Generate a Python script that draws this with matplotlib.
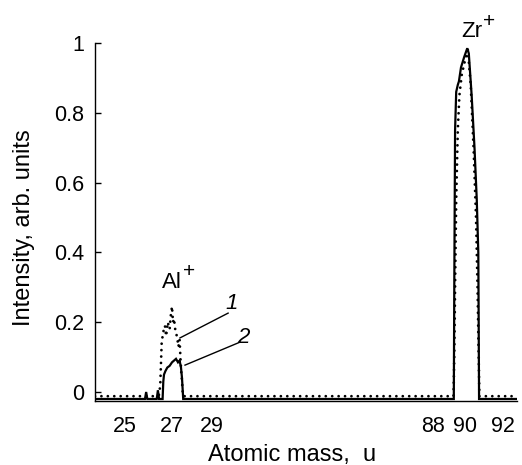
import numpy as np
import matplotlib
matplotlib.use("Agg")
import matplotlib.pyplot as plt

plt.rcParams['font.family'] = ['Liberation Sans', 'DejaVu Sans']

# curve 1 (dotted)
mass1 = [23.5, 26.3, 26.45, 26.5, 26.52, 26.54, 26.56, 26.62, 26.7, 26.75, 26.82, 26.9,
         26.95, 27.0, 27.05, 27.1, 27.18, 27.25, 27.32, 27.38, 27.42, 27.46, 27.5, 27.55,
         89.28, 89.33, 89.38, 89.45, 89.55, 89.65, 89.8, 90.0, 90.15, 90.3, 90.45,
         90.58, 90.66, 90.72, 90.76, 92.75]
int1 = [-0.012, -0.012, -0.008, 0.02, 0.06, 0.1, 0.14, 0.17, 0.19, 0.16, 0.2, 0.18,
        0.22, 0.245, 0.2, 0.21, 0.17, 0.16, 0.13, 0.15, 0.1, 0.06, 0.03, -0.012,
        -0.012, 0.1, 0.3, 0.55, 0.75, 0.85, 0.91, 0.95, 0.98, 0.88, 0.7,
        0.5, 0.3, 0.1, -0.012, -0.012]

# curve 2 (solid)
mass2 = [23.5, 25.85, 25.9, 25.95, 26.35, 26.4, 26.45, 26.6, 26.63, 26.66, 26.72, 26.8,
         26.9, 27.0, 27.1, 27.2, 27.3, 27.38, 27.45, 27.5, 27.53, 27.56, 29.5,
         89.3, 89.33, 89.38, 89.45, 89.55, 89.62, 89.75, 89.95, 90.12, 90.2, 90.35,
         90.5, 90.62, 90.7, 90.72, 90.74, 92.75]
int2 = [-0.02, -0.02, 0.0, -0.02, -0.02, 0.005, -0.02, -0.02, 0.03, 0.05, 0.06, 0.07,
        0.075, 0.085, 0.09, 0.095, 0.085, 0.09, 0.07, 0.04, 0.01, -0.02, -0.02,
        -0.02, 0.3, 0.75, 0.86, 0.88, 0.89, 0.93, 0.96, 0.985, 0.97, 0.85,
        0.7, 0.55, 0.4, 0.2, -0.02, -0.02]

xticks = [25, 27, 29, 88, 90, 92]

# piecewise axis: compressed gap between 29 and 88
brk_mass = [-1000, 23.5, 25, 27, 29, 88, 90, 92, 92.75, 1000]
brk_pos = [95 - 1023.5 * 20, 95, 125, 172, 212, 433, 465, 503, 517, 517 + 907.25 * 19]


def fwd(x):
    return np.interp(x, brk_mass, brk_pos)


def inv(p):
    return np.interp(p, brk_pos, brk_mass)


fig = plt.figure(figsize=(5.22, 4.65), dpi=100)
ax = fig.add_axes([95 / 522, 1 - 401 / 465, 422 / 522, 358 / 465])
ax.set_xscale('function', functions=(fwd, inv))

ax.plot(mass2, int2, color='black', lw=1.6, solid_joinstyle='miter')
ax.plot(mass1, int1, color='black', lw=2.0, linestyle=(0, (0.01, 2.3)),
        dash_capstyle='round')

ax.set_xlim(23.5, 92.75)
ax.set_ylim(-0.0258, 1.0)
ax.set_xticks(xticks)
ax.set_xticklabels([str(t) for t in xticks])
ax.set_yticks([0, 0.2, 0.4, 0.6, 0.8, 1])
ax.set_yticklabels(['0', '0.2', '0.4', '0.6', '0.8', '1'])
ax.tick_params(axis='y', direction='in', length=4, width=1, pad=8, labelsize=15.5)
ax.tick_params(axis='x', length=0, pad=11, labelsize=15.5)
ax.minorticks_off()
for s in ['top', 'right']:
    ax.spines[s].set_visible(False)
for s in ['left', 'bottom']:
    ax.spines[s].set_linewidth(1)

ax.set_xlabel('Atomic mass,  u', fontsize=17)
ax.set_ylabel('Intensity, arb. units', fontsize=17)
ax.xaxis.set_label_coords((292 - 95) / 422, -(455 - 401) / 358)
ax.yaxis.set_label_coords(-(95 - 24) / 422, (401 - 228) / 358)
ax.xaxis.label.set_va('center')
ax.yaxis.label.set_va('center')

al = ax.text(27.0, 0.298, 'Al', fontsize=16, ha='center', va='baseline')
ax.annotate('+', xy=(1, 1), xycoords=al, xytext=(0.5, 0), textcoords='offset points',
            ha='left', va='center', fontsize=15)
zr = ax.text(90.35, 1.017, 'Zr', fontsize=16, ha='center', va='baseline', clip_on=False)
ax.annotate('+', xy=(1, 1), xycoords=zr, xytext=(0.5, 0), textcoords='offset points',
            ha='left', va='center', fontsize=15, annotation_clip=False)

ax.plot([27.4, 33.3], [0.155, 0.226], color='black', lw=1)
ax.plot([27.65, 36.5], [0.077, 0.143], color='black', lw=1)
ax.text(34.3, 0.255, '1', fontsize=16, style='italic', ha='center', va='center')
ax.text(37.4, 0.155, '2', fontsize=16, style='italic', ha='center', va='center')

fig.savefig('out.png', dpi=100)
